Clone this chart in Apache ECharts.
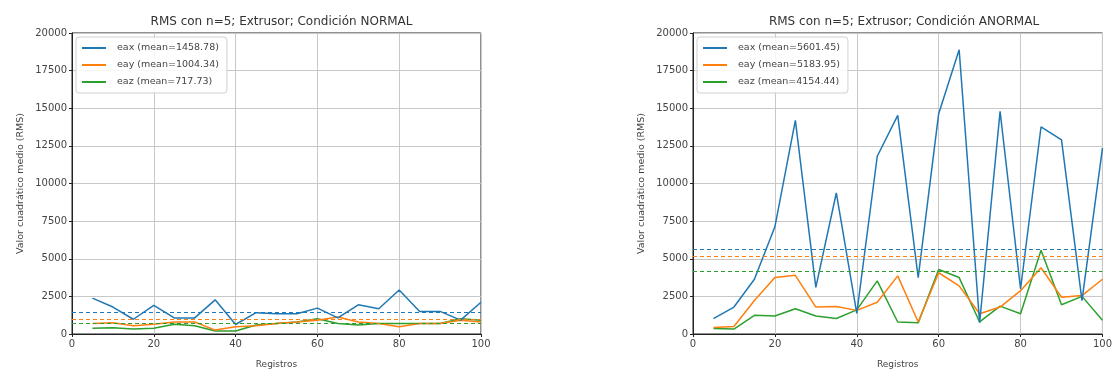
<!DOCTYPE html>
<html>
<head>
<meta charset="utf-8">
<script src="https://cdn.jsdelivr.net/npm/echarts@6/dist/echarts.min.js"></script>
<style>
html,body{margin:0;padding:0;background:#fff;}
#chart{width:1115px;height:374px;}
</style>
</head>
<body>
<div id="chart"></div>
<script>
// ---- data ----
const registros = [5,10,15,20,25,30,35,40,45,50,55,60,65,70,75,80,85,90,95,100];
const xTicks = [0,20,40,60,80,100];
const yTicks = [0,2500,5000,7500,10000,12500,15000,17500,20000];

const titles = ["RMS con n=5; Extrusor; Condición NORMAL", "RMS con n=5; Extrusor; Condición ANORMAL"];
const axisNames = ["eax", "eay", "eaz"];

// Condición NORMAL
const normalEax = [2380,1790,980,1900,1070,1070,2270,630,1420,1350,1350,1720,1070,1940,1680,2920,1500,1500,920,2110];
const normalEay = [700,750,550,650,800,800,260,480,550,700,800,920,1130,800,700,480,700,700,920,800];
const normalEaz = [390,420,330,380,650,550,200,200,600,700,800,1020,700,590,700,700,700,700,1020,920];
const normalMeans = [1458.78, 1004.34, 717.73];

// Condición ANORMAL
const anormalEax = [1020,1790,3640,7120,14200,3100,9370,1370,11810,14530,3750,14640,18890,750,14790,2990,13770,12900,2220,12350];
const anormalEay = [440,500,2220,3750,3900,1790,1830,1570,2110,3860,800,4070,3200,1350,1790,2880,4400,2440,2550,3640];
const anormalEaz = [370,330,1240,1200,1680,1200,1030,1600,3530,800,740,4290,3750,800,1850,1350,5560,1940,2500,920];
const anormalMeans = [5601.45, 5183.95, 4154.44];

const colors = ['#1f77b4', '#ff7f0e', '#2ca02c'];

// ---- build ----
const panels = [
  {vals:[normalEax, normalEay, normalEaz], means: normalMeans},
  {vals:[anormalEax, anormalEay, anormalEaz], means: anormalMeans}
];
const gridPos = [{left:72, width:409}, {left:693, width:412}];
const font = 'DejaVu Sans, sans-serif';

const grids = [], xAxes = [], yAxes = [], series = [], legends = [], titleComps = [];
panels.forEach((p, pi) => {
  grids.push({left: gridPos[pi].left, width: gridPos[pi].width, top: 33, height: 306,
    show: true, borderColor: '#222', borderWidth: 1, backgroundColor: 'transparent'});
  xAxes.push({type:'value', gridIndex: pi, min: xTicks[0], max: xTicks[xTicks.length-1], interval: xTicks[1]-xTicks[0],
    name: 'Registros', nameLocation: 'middle', nameGap: 26,
    nameTextStyle: {fontFamily: font, fontSize: 9, color: '#444'},
    axisLine: {show: true, lineStyle: {color: '#222'}},
    axisTick: {show: true, length: 3, lineStyle: {color: '#222'}},
    axisLabel: {fontFamily: font, fontSize: 10, color: '#444', margin: 5, formatter: v => String(v)},
    splitLine: {show: true, lineStyle: {color: '#c8c8c8', width: 1}}});
  yAxes.push({type:'value', gridIndex: pi, min: yTicks[0], max: yTicks[yTicks.length-1], interval: yTicks[1]-yTicks[0],
    name: 'Valor cuadrático medio (RMS)', nameLocation: 'middle', nameGap: 46,
    nameTextStyle: {fontFamily: font, fontSize: 9.5, color: '#444'},
    axisLine: {show: true, lineStyle: {color: '#222'}},
    axisTick: {show: true, length: 3, lineStyle: {color: '#222'}},
    axisLabel: {fontFamily: font, fontSize: 10, color: '#444', margin: 5, formatter: v => String(v)},
    splitLine: {show: true, lineStyle: {color: '#c8c8c8', width: 1}}});
  titleComps.push({text: titles[pi], left: gridPos[pi].left + gridPos[pi].width/2, textAlign: 'center', top: 11,
    textStyle: {fontFamily: font, fontSize: 12, fontWeight: 'normal', color: '#333'}});
  const names = [];
  p.vals.forEach((v, si) => {
    const nm = axisNames[si] + ' (mean=' + p.means[si].toFixed(2) + ')';
    names.push(nm);
    series.push({name: nm, type: 'line', xAxisIndex: pi, yAxisIndex: pi,
      data: registros.map((x, i) => [x, v[i]]),
      showSymbol: false, symbol: 'none', color: colors[si],
      lineStyle: {width: 1.5, color: colors[si]},
      z: 3 - si,
      markLine: {silent: true, symbol: 'none', label: {show: false},
        lineStyle: {type: [4, 3], width: 1, color: colors[si]},
        data: [{yAxis: p.means[si]}]}});
  });
  legends.push({data: names, orient: 'vertical', left: gridPos[pi].left + 4, top: 37,
    icon: 'rect', itemWidth: 24, itemHeight: 2, itemGap: 7,
    backgroundColor: 'rgba(255,255,255,0.85)', borderColor: '#d0d0d0', borderWidth: 1, borderRadius: 3,
    padding: [6, 8, 6, 6],
    textStyle: {fontFamily: font, fontSize: 9.5, color: '#444', padding: [0, 0, 0, 6]}});
});

const chart = echarts.init(document.getElementById('chart'), null, {renderer: 'canvas'});
chart.setOption({
  animation: false,
  backgroundColor: '#fff',
  title: titleComps,
  grid: grids,
  xAxis: xAxes,
  yAxis: yAxes,
  legend: legends,
  series: series
});
</script>
</body>
</html>
